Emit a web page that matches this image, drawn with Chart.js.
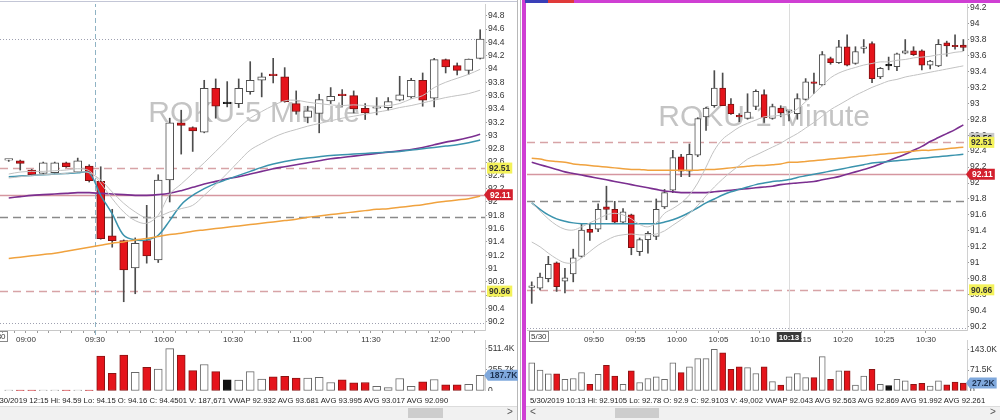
<!DOCTYPE html>
<html>
<head>
<meta charset="utf-8">
<title>ROKU 5 Minute / 1 Minute</title>
<script src="https://cdn.jsdelivr.net/npm/chart.js@4.4.1/dist/chart.umd.min.js"></script>
<style>
  html, body { margin: 0; padding: 0; background: #fff; }
  #page { position: relative; width: 1000px; height: 420px; overflow: hidden; background: #fff;
          font-family: "Liberation Sans", Arial, sans-serif; color: #222; }
  .cv { position: absolute; }
  .status { position: absolute; top: 396px; font-size: 7.7px; white-space: nowrap; color: #222; }
  .track { position: absolute; top: 406px; height: 13px; background: #f1f1f1; border-top: 1px solid #dcdcdc; }
  .thumb { position: absolute; top: 408px; height: 10px; background: #cdcdcd; }
  .arrow { position: absolute; top: 406px; font-size: 10px; color: #555; }
  .datebox { position: absolute; top: 331px; font-size: 8px; color: #333; border: 1px solid #888; padding: 0 1px; line-height: 9px; }
</style>
</head>
<body>
<div id="page">
  <!-- left pane frame -->
  <div style="position:absolute;left:0;top:1px;width:518px;height:1px;background:#c3c6d6"></div>
  <div style="position:absolute;left:517px;top:0;width:1px;height:420px;background:#b8b8b8"></div>
  <div style="position:absolute;left:520px;top:0;width:1px;height:420px;background:#b8b8b8"></div>
  <!-- right pane frame (active) -->
  <div style="position:absolute;left:522px;top:0;width:478px;height:3px;background:#cf3fd3"></div>
  <div style="position:absolute;left:522px;top:0;width:4px;height:420px;background:#cf3fd3"></div>
  <div style="position:absolute;left:525px;top:0;width:23px;height:3px;background:#3a3fb8"></div>
  <div style="position:absolute;left:548px;top:0;width:26px;height:3px;background:#e03a3a"></div>

  <canvas id="leftPrice" class="cv" width="518" height="342" style="left:0;top:4px"></canvas>
  <canvas id="leftVol" class="cv" width="518" height="51" style="left:0;top:340px"></canvas>
  <canvas id="rightPrice" class="cv" width="471" height="342" style="left:527px;top:4px"></canvas>
  <canvas id="rightVol" class="cv" width="471" height="51" style="left:527px;top:340px"></canvas>

  <span class="datebox" style="left:-12px">5/30</span>
  <span class="datebox" style="left:529px">5/30</span>

  <div id="leftStatus" class="status" style="left:-7px"></div>
  <div id="rightStatus" class="status" style="left:530px"></div>

  <div class="track" style="left:0;width:517px"></div>
  <div class="thumb" style="left:408px;width:35px"></div>
  <div class="arrow" style="left:507px">&gt;</div>
  <div class="track" style="left:526px;width:474px"></div>
  <div class="thumb" style="left:615px;width:44px"></div>
  <div class="arrow" style="left:530px">&lt;</div>
  <div class="arrow" style="left:990px">&gt;</div>
</div>

<script>
// ---------------- ROKU 5-minute bars ----------------
const leftTimes = ['08:50','08:55','09:00','09:05','09:10','09:15','09:20','09:25',
  '09:30','09:35','09:40','09:45','09:50','09:55','10:00','10:05','10:10','10:15',
  '10:20','10:25','10:30','10:35','10:40','10:45','10:50','10:55','11:00','11:05',
  '11:10','11:15','11:20','11:25','11:30','11:35','11:40','11:45','11:50','11:55',
  '12:00','12:05','12:10','12:15'];
const leftOpen = [92.63, 92.62, 92.48, 92.43, 92.44, 92.59, 92.45, 92.54,
  92.31, 91.49, 91.42, 91.01, 91.42, 91.13, 92.33, 93.19, 93.12, 93.05, 93.71, 93.48,
  93.48, 93.66, 93.83, 93.92, 93.88, 93.48, 93.27, 93.33, 93.52, 93.62, 93.60, 93.41,
  93.41, 93.42, 93.53, 93.58, 93.83, 93.56, 94.14, 94.05, 93.98, 94.16];
const leftHigh = [92.64, 92.63, 92.49, 92.60, 92.60, 92.60, 92.66, 92.56,
  92.53, 91.89, 91.43, 91.46, 91.95, 92.41, 93.26, 93.38, 93.13, 93.83, 93.85, 93.81,
  93.85, 94.11, 93.94, 94.16, 94.02, 93.67, 93.44, 93.62, 93.72, 93.69, 93.67, 93.48,
  93.57, 93.57, 93.89, 93.86, 93.94, 94.16, 94.15, 94.09, 94.15, 94.59];
const leftLow = [92.61, 92.48, 92.40, 92.42, 92.43, 92.52, 92.44, 92.30,
  91.44, 91.32, 90.50, 90.62, 91.08, 91.09, 92.00, 92.72, 92.76, 93.04, 93.26, 93.43,
  93.42, 93.62, 93.58, 93.79, 93.50, 93.32, 93.19, 93.04, 93.48, 93.44, 93.34, 93.24,
  93.31, 93.38, 93.52, 93.56, 93.44, 93.43, 93.94, 93.91, 93.92, 94.15];
const leftClose = [92.635, 92.58, 92.41, 92.59, 92.59, 92.53, 92.62, 92.32,
  91.45, 91.42, 90.98, 91.38, 91.19, 92.33, 93.19, 93.15, 93.07, 93.71, 93.44, 93.48,
  93.71, 93.83, 93.88, 93.90, 93.51, 93.36, 93.37, 93.54, 93.59, 93.60, 93.40, 93.34,
  93.42, 93.51, 93.61, 93.83, 93.53, 94.14, 94.03, 93.98, 94.15, 94.4501];
const leftVolume = [4000, 4000, 4000, 4000, 4000, 4000, 4000, 4000,
  418000, 211000, 430000, 223000, 284000, 264000, 508000, 430000, 244000, 317000,
  232000, 134000, 130000, 232000, 142000, 171000, 175000, 154000, 154000, 163000,
  102000, 134000, 98000, 102000, 57000, 41000, 150000, 57000, 110000, 138000,
  73000, 73000, 81000, 187671];
const leftVwap = [92.38, 92.39, 92.40, 92.41, 92.42, 92.43, 92.44, 92.44,
  92.10, 91.82, 91.50, 91.43, 91.43, 91.50, 91.72, 91.96, 92.10, 92.20, 92.28, 92.34,
  92.40, 92.46, 92.52, 92.57, 92.61, 92.64, 92.66, 92.68, 92.70, 92.71, 92.72, 92.73,
  92.74, 92.75, 92.76, 92.78, 92.80, 92.82, 92.84, 92.86, 92.89, 92.932];
const leftAvgSlow = [92.36, 92.38, 92.40, 92.41, 92.42, 92.43, 92.45, 92.44,
  92.33, 92.15, 91.98, 91.85, 91.76, 91.78, 91.85, 91.90, 91.95, 92.10, 92.26, 92.43,
  92.61, 92.78, 92.88, 92.97, 93.04, 93.09, 93.14, 93.18, 93.22, 93.26, 93.29, 93.32,
  93.35, 93.38, 93.42, 93.45, 93.49, 93.53, 93.57, 93.60, 93.63, 93.681];
const leftAvgFast = [92.42, 92.45, 92.46, 92.46, 92.47, 92.48, 92.50, 92.47,
  92.28, 92.05, 91.85, 91.72, 91.68, 91.80, 92.12, 92.27, 92.43, 92.59, 92.76, 92.93,
  93.11, 93.26, 93.36, 93.45, 93.52, 93.53, 93.50, 93.48, 93.46, 93.45, 93.46, 93.45,
  93.44, 93.45, 93.48, 93.55, 93.60, 93.72, 93.80, 93.86, 93.92, 93.995];
const leftAvgPurple = [92.06, 92.08, 92.10, 92.11, 92.12, 92.13, 92.14, 92.14,
  92.13, 92.12, 92.11, 92.10, 92.10, 92.11, 92.13, 92.17, 92.22, 92.27, 92.31, 92.35,
  92.38, 92.42, 92.46, 92.50, 92.53, 92.56, 92.59, 92.62, 92.65, 92.67, 92.69, 92.71,
  92.73, 92.75, 92.77, 92.79, 92.82, 92.86, 92.90, 92.93, 92.97, 93.017];
const leftAvgOrange = [91.15, 91.17, 91.19, 91.21, 91.23, 91.26, 91.29, 91.32,
  91.35, 91.38, 91.40, 91.43, 91.45, 91.48, 91.51, 91.53, 91.56, 91.58, 91.60, 91.62,
  91.64, 91.66, 91.68, 91.70, 91.72, 91.74, 91.77, 91.79, 91.81, 91.83, 91.85, 91.87,
  91.89, 91.90, 91.92, 91.94, 91.96, 91.99, 92.01, 92.03, 92.05, 92.090];
const leftPriceTicks = [90.2, 90.4, 90.6, 90.8, 91, 91.2, 91.4, 91.6, 91.8, 92, 92.2, 92.4,
  92.6, 92.8, 93, 93.2, 93.4, 93.6, 93.8, 94, 94.2, 94.4, 94.6, 94.8];
const leftVolumeTicks = [0, 127900, 255700, 383600, 511400];
const leftLevels = [94.4501, 92.51, 92.11, 91.78, 90.66, 90.18];
const leftSessionOpen = '09:30';

// ---------------- ROKU 1-minute bars ----------------
const rightTimes = ['09:42','09:43','09:44','09:45','09:46','09:47','09:48','09:49','09:50','09:51',
  '09:52','09:53','09:54','09:55','09:56','09:57','09:58','09:59','10:00','10:01',
  '10:02','10:03','10:04','10:05','10:06','10:07','10:08','10:09','10:10','10:11',
  '10:12','10:13','10:14','10:15','10:16','10:17','10:18','10:19','10:20','10:21',
  '10:22','10:23','10:24','10:25','10:26','10:27','10:28','10:29','10:30','10:31',
  '10:32','10:33','10:34'];
const rightOpen = [90.69, 90.68, 90.80, 91.00, 90.77, 90.86, 91.08, 91.42, 91.42, 91.70,
  91.67, 91.51, 91.60, 91.14, 91.29, 91.33, 91.70, 91.91, 92.33, 92.15,
  92.35, 92.83, 92.97, 93.19, 92.99, 92.84, 92.81, 92.96, 93.11, 92.81,
  92.94, 92.9, 92.87, 93.05, 93.26, 93.23, 93.56, 93.51, 93.71, 93.50,
  93.69, 93.75, 93.33, 93.47, 93.46, 93.63, 93.66, 93.66, 93.48, 93.47,
  93.76, 93.72, 93.73];
const rightHigh = [90.76, 90.87, 91.08, 91.01, 90.93, 91.17, 91.49, 91.49, 91.74, 91.96,
  91.77, 91.68, 91.61, 91.31, 91.39, 91.80, 91.92, 92.41, 92.36, 92.49,
  92.82, 92.95, 93.41, 93.38, 93.06, 92.87, 93.12, 93.17, 93.17, 92.99,
  92.97, 92.9105, 93.12, 93.31, 93.38, 93.65, 93.58, 93.79, 93.86, 93.71,
  93.80, 93.77, 93.45, 93.58, 93.63, 93.80, 93.71, 93.67, 93.54, 93.80,
  93.78, 93.86, 93.80];
const rightLow = [90.49, 90.66, 90.76, 90.64, 90.62, 90.76, 91.07, 91.28, 91.39, 91.54,
  91.50, 91.50, 91.10, 91.09, 91.12, 91.29, 91.68, 91.88, 92.08, 92.08,
  92.33, 92.66, 92.95, 92.97, 92.86, 92.77, 92.80, 92.92, 92.76, 92.80,
  92.83, 92.78, 92.80, 93.04, 93.12, 93.22, 93.49, 93.50, 93.47, 93.49,
  93.63, 93.26, 93.31, 93.42, 93.41, 93.62, 93.60, 93.42, 93.43, 93.46,
  93.59, 93.68, 93.66];
const rightClose = [90.70, 90.82, 90.98, 90.70, 90.81, 91.06, 91.41, 91.38, 91.67, 91.67,
  91.51, 91.64, 91.19, 91.29, 91.37, 91.67, 91.88, 92.32, 92.15, 92.36,
  92.81, 92.94, 93.19, 92.97, 92.87, 92.83, 92.89, 93.15, 92.82, 92.96,
  92.88, 92.9103, 93.06, 93.27, 93.25, 93.61, 93.51, 93.71, 93.48, 93.65,
  93.70, 93.31, 93.44, 93.47, 93.62, 93.66, 93.61, 93.48, 93.53, 93.74,
  93.72, 93.71, 93.70];
const rightVolume = [97000, 72000, 59000, 59000, 40000, 43000, 63000, 23000, 57000, 88000,
  51000, 23000, 69000, 29000, 43000, 49000, 40000, 97000, 63000, 83000,
  111000, 111000, 143000, 131000, 74000, 83000, 80000, 60000, 83000, 32000,
  20000, 49002, 60000, 46000, 46000, 118000, 40000, 69000, 69000, 20000,
  51000, 74000, 23000, 19000, 40000, 35000, 23000, 26000, 17000, 35000,
  21000, 31000, 27200];
const rightVwap = [91.75, 91.67, 91.60, 91.55, 91.52, 91.50, 91.49, 91.49, 91.49, 91.49,
  91.49, 91.49, 91.49, 91.49, 91.49, 91.49, 91.51, 91.54, 91.58, 91.63,
  91.69, 91.75, 91.80, 91.85, 91.89, 91.92, 91.95, 91.98, 92.00, 92.02,
  92.03, 92.043, 92.07, 92.09, 92.11, 92.13, 92.15, 92.17, 92.19, 92.21,
  92.23, 92.25, 92.26, 92.27, 92.28, 92.29, 92.30, 92.31, 92.32, 92.33,
  92.34, 92.35, 92.36];
const rightAvgSlow = [91.26, 91.20, 91.12, 91.05, 91.00, 91.00, 91.06, 91.14, 91.22, 91.28,
  91.33, 91.35, 91.36, 91.35, 91.35, 91.36, 91.40, 91.47, 91.54, 91.62,
  91.72, 91.84, 91.95, 92.05, 92.14, 92.22, 92.30, 92.35, 92.40, 92.45,
  92.50, 92.563, 92.62, 92.69, 92.76, 92.84, 92.92, 92.98, 93.04, 93.10,
  93.15, 93.20, 93.24, 93.28, 93.30, 93.33, 93.35, 93.37, 93.39, 93.41,
  93.43, 93.45, 93.47];
const rightAvgFast = [91.75, 91.65, 91.55, 91.47, 91.42, 91.41, 91.45, 91.50, 91.55, 91.60,
  91.62, 91.60, 91.55, 91.48, 91.45, 91.50, 91.62, 91.68, 91.75, 91.85,
  92.00, 92.20, 92.41, 92.55, 92.63, 92.70, 92.75, 92.79, 92.83, 92.84,
  92.85, 92.869, 92.93, 93.02, 93.12, 93.22, 93.32, 93.38, 93.42, 93.45,
  93.48, 93.50, 93.52, 93.52, 93.54, 93.55, 93.57, 93.58, 93.59, 93.61,
  93.62, 93.64, 93.65];
const rightAvgPurple = [92.26, 92.23, 92.20, 92.17, 92.14, 92.12, 92.10, 92.08, 92.06, 92.04,
  92.02, 92.00, 91.98, 91.96, 91.94, 91.92, 91.90, 91.89, 91.88, 91.88,
  91.88, 91.88, 91.89, 91.90, 91.91, 91.92, 91.93, 91.94, 91.95, 91.96,
  91.98, 91.992, 92.00, 92.01, 92.02, 92.04, 92.06, 92.08, 92.11, 92.14,
  92.17, 92.20, 92.24, 92.28, 92.32, 92.36, 92.41, 92.46, 92.52, 92.57,
  92.62, 92.67, 92.73];
const rightAvgOrange = [92.31, 92.30, 92.28, 92.27, 92.26, 92.24, 92.23, 92.22, 92.21, 92.20,
  92.19, 92.18, 92.17, 92.17, 92.16, 92.16, 92.16, 92.16, 92.16, 92.16,
  92.16, 92.17, 92.17, 92.18, 92.19, 92.20, 92.21, 92.22, 92.22, 92.23,
  92.24, 92.261, 92.26, 92.27, 92.28, 92.29, 92.30, 92.31, 92.32, 92.33,
  92.34, 92.35, 92.36, 92.37, 92.38, 92.39, 92.40, 92.41, 92.41, 92.42,
  92.43, 92.44, 92.45];
const rightPriceTicks = [90.2, 90.4, 90.6, 90.8, 91, 91.2, 91.4, 91.6, 91.8, 92, 92.2, 92.4,
  92.6, 92.8, 93, 93.2, 93.4, 93.6, 93.8, 94, 94.2];
const rightVolumeTicks = [0, 71500, 143000];
const rightLevels = [92.51, 92.11, 91.78, 90.66, 90.18];
const rightCursorTime = '10:13';
const rightMarkPrice = 92.56;

const tradeDate = '5/30/2019';

// ---------------- drawing ----------------
const FONT = "'Liberation Sans', Arial, sans-serif";
const C = {
  upFill: '#ffffff', upLine: '#4d4d4d', downFill: '#e5141b', downLine: '#7d1212',
  flat: '#111111', wick: '#4d4d4d',
  vwap: '#3a93ad', purple: '#7b2f90', orange: '#f0a23e', gray: '#c2c2c2',
  levelPink: '#d7a3a6', levelSolid: '#d596a0', levelGray: '#8a8a8a', levelDot: '#9ea0b0',
  tick: '#333333'
};

function toMin(s) { const p = s.split(':'); return (+p[0]) * 60 + (+p[1]); }
function hhmm(m) { const h = Math.floor(m / 60), mm = Math.round(m % 60); return String(h).padStart(2, '0') + ':' + String(mm).padStart(2, '0'); }
function dir(o, c) { return c > o ? 1 : (c < o ? -1 : 0); }

function levelStyle(v, last) {
  if (v === last) return { color: C.levelDot, width: 1, dash: [1, 2] };
  if (v === 92.11) return { color: C.levelSolid, width: 1.6, dash: [] };
  if (v === 91.78) return { color: C.levelGray, width: 1.3, dash: [8, 5] };
  if (v === 90.18) return { color: C.levelDot, width: 1, dash: [1, 2] };
  return { color: C.levelPink, width: 1.3, dash: [8, 5] };
}

function badge(ctx, x, y, text, bg, fg, arrow) {
  ctx.save();
  ctx.font = 'bold 8.5px ' + FONT;
  const w = ctx.measureText(text).width + 4, h = 11;
  ctx.fillStyle = bg;
  ctx.beginPath();
  if (arrow) {
    ctx.moveTo(x - 4, y);
    ctx.lineTo(x, y - h / 2);
    ctx.lineTo(x + w, y - h / 2);
    ctx.lineTo(x + w, y + h / 2);
    ctx.lineTo(x, y + h / 2);
    ctx.closePath();
  } else {
    ctx.rect(x, y - h / 2, w, h);
  }
  ctx.fill();
  ctx.fillStyle = fg;
  ctx.textBaseline = 'middle';
  ctx.textAlign = 'left';
  ctx.fillText(text, x + 2, y + 0.5);
  ctx.restore();
}

const paneDecor = {
  id: 'paneDecor',
  beforeDatasetsDraw(chart, args, o) {
    const { ctx, chartArea: a, scales: { x, y } } = chart;
    ctx.save();
    if (o.watermark) {
      ctx.font = '30px ' + FONT;
      ctx.fillStyle = '#c4c4c4';
      ctx.textAlign = 'center';
      ctx.textBaseline = 'alphabetic';
      ctx.fillText(o.watermark, a.left + a.width * o.wmX, a.top + a.height * o.wmY);
    }
    ctx.beginPath(); ctx.rect(a.left, a.top, a.width, a.height); ctx.clip();
    (o.levels || []).forEach(v => {
      const s = levelStyle(v, o.lastPrice);
      const py = Math.round(y.getPixelForValue(v)) + 0.5;
      ctx.strokeStyle = s.color; ctx.lineWidth = s.width; ctx.setLineDash(s.dash);
      ctx.beginPath(); ctx.moveTo(a.left, py); ctx.lineTo(a.right, py); ctx.stroke();
    });
    ctx.restore();
    if (o.sessionLine != null) {
      const px = Math.round(x.getPixelForValue(o.sessionLine)) + 0.5;
      ctx.save();
      ctx.strokeStyle = '#8fb3c4'; ctx.lineWidth = 1; ctx.setLineDash([5, 3]);
      ctx.beginPath(); ctx.moveTo(px, a.top - 2); ctx.lineTo(px, a.bottom + 6); ctx.stroke();
      ctx.restore();
    }
    if (o.cursor != null) {
      const px = Math.round(x.getPixelForValue(o.cursor)) + 0.5;
      ctx.save();
      ctx.strokeStyle = '#dcdcdc'; ctx.lineWidth = 1;
      ctx.beginPath(); ctx.moveTo(px, a.top); ctx.lineTo(px, a.bottom); ctx.stroke();
      ctx.restore();
    }
  },
  afterDraw(chart, args, o) {
    const { ctx, chartArea: a, scales: { x, y } } = chart;
    (o.badges || []).forEach(b => {
      badge(ctx, a.right + (b.arrow ? 3 : 2), y.getPixelForValue(b.value), b.text, b.bg, b.fg, b.arrow);
    });
    if (o.cursor != null) {
      const px = x.getPixelForValue(o.cursor);
      ctx.save();
      ctx.font = 'bold 8px ' + FONT;
      const t = o.cursorLabel, w = ctx.measureText(t).width + 4;
      ctx.fillStyle = '#3a3a3a';
      ctx.fillRect(px - w / 2, a.bottom + 2, w, 10);
      ctx.fillStyle = '#fff'; ctx.textAlign = 'center'; ctx.textBaseline = 'middle';
      ctx.fillText(t, px, a.bottom + 7.5);
      ctx.restore();
    }
  }
};

// keep the plot area edge-to-edge: no extra room reserved for overhanging labels
function fixVertical(width) {
  return s => { s.width = width; s.paddingTop = 0; s.paddingBottom = 0; };
}
function fixHorizontal(height) {
  return s => { s.height = height; s.paddingLeft = 0; s.paddingRight = 0; };
}

function candleDatasets(t, open, high, low, close, bodyW) {
  const wicks = t.map((m, i) => ({ x: m, y: [low[i], high[i]] }));
  const bodies = t.map((m, i) => ({ x: m, y: [open[i], close[i]] }));
  return [
    { type: 'bar', data: wicks, barThickness: 1, grouped: false, order: 20,
      backgroundColor: C.wick, borderWidth: 0 },
    { type: 'bar', data: bodies, barThickness: bodyW, grouped: false, order: 19, minBarLength: 1.5,
      borderSkipped: false, borderWidth: 1,
      backgroundColor: c => { const d = dir(open[c.dataIndex], close[c.dataIndex]); return d > 0 ? C.upFill : d < 0 ? C.downFill : C.flat; },
      borderColor: c => { const d = dir(open[c.dataIndex], close[c.dataIndex]); return d > 0 ? C.upLine : d < 0 ? C.downLine : C.flat; } }
  ];
}

function maLine(t, vals, color, width) {
  return { type: 'line', data: t.map((m, i) => ({ x: m, y: vals[i] })), borderColor: color,
    borderWidth: width, pointRadius: 0, tension: 0.35, order: 5, fill: false };
}

function priceChart(id, p) {
  return new Chart(document.getElementById(id), {
    type: 'bar',
    data: { datasets: [
      ...candleDatasets(p.t, p.open, p.high, p.low, p.close, p.bodyW),
      maLine(p.t, p.avgSlow, C.gray, 1),
      maLine(p.t, p.avgFast, C.gray, 1),
      maLine(p.t, p.avgOrange, C.orange, 1.5),
      maLine(p.t, p.vwap, C.vwap, 1.5),
      maLine(p.t, p.avgPurple, C.purple, 1.6)
    ]},
    options: {
      responsive: false, animation: false, events: [], devicePixelRatio: 1,
      layout: { padding: 0 },
      plugins: { legend: { display: false }, tooltip: { enabled: false }, paneDecor: p.decor },
      scales: {
        x: {
          type: 'linear', min: p.xMin, max: p.xMax, offset: false,
          grid: { drawOnChartArea: false, offset: false, tickLength: 3, color: '#9a9a9a' },
          border: { color: '#c8c8c8' },
          ticks: { autoSkip: false, maxRotation: 0, padding: 2, color: C.tick, font: { family: FONT, size: 8 },
                   callback: v => p.xLabel(v) },
          afterBuildTicks: s => { s.ticks = p.xTicks.map(v => ({ value: v })); },
          afterFit: fixHorizontal(16)
        },
        y: {
          type: 'linear', position: 'right', min: p.yMin, max: p.yMax,
          grid: { drawOnChartArea: false, tickLength: 2, color: '#9a9a9a' },
          border: { color: '#d0d0d0' },
          ticks: { padding: 1, color: C.tick, font: { family: FONT, size: 8.5 },
                   callback: v => String(+v.toFixed(1)) },
          afterBuildTicks: s => { s.ticks = p.yTicks.map(v => ({ value: v })); },
          afterFit: fixVertical(p.axisW)
        }
      }
    },
    plugins: [paneDecor]
  });
}

function volumeChart(id, p) {
  const colorOf = (i, up, down, flat) => { const d = dir(p.open[i], p.close[i]); return d > 0 ? up : d < 0 ? down : flat; };
  return new Chart(document.getElementById(id), {
    type: 'bar',
    data: { datasets: [{
      data: p.t.map((m, i) => ({ x: m, y: p.volume[i] })),
      barThickness: p.barW, grouped: false, borderWidth: 1, borderSkipped: false, minBarLength: 1,
      backgroundColor: c => colorOf(c.dataIndex, '#ffffff', '#e5141b', '#111111'),
      borderColor: c => colorOf(c.dataIndex, '#6a6a6a', '#8a1515', '#111111')
    }]},
    options: {
      responsive: false, animation: false, events: [], devicePixelRatio: 1,
      layout: { padding: 0 },
      plugins: { legend: { display: false }, tooltip: { enabled: false }, paneDecor: { badges: p.badges } },
      scales: {
        x: { type: 'linear', display: false, min: p.xMin, max: p.xMax, offset: false },
        y: {
          type: 'linear', position: 'right', min: 0, max: p.yMax,
          grid: { drawOnChartArea: false, tickLength: 2, color: '#9a9a9a' },
          border: { color: '#d0d0d0' },
          ticks: { padding: 1, color: C.tick, font: { family: FONT, size: 8.5 },
                   callback: v => v === 0 ? '0' : (v / 1000).toFixed(1) + 'K' },
          afterBuildTicks: s => { s.ticks = p.yTicks.map(v => ({ value: v })); },
          afterFit: fixVertical(p.axisW)
        }
      }
    },
    plugins: [paneDecor]
  });
}

function statusText(times, i, open, high, low, close, vol, vwap, slow, fast, purple, orange) {
  return tradeDate + ' ' + times[i] + '  Hi: ' + high[i] + '  Lo: ' + low[i] + '  O: ' + open[i] +
    '  C: ' + close[i] + '  V: ' + vol[i].toLocaleString('en-US') +
    '  VWAP ' + vwap[i].toFixed(3) + ' AVG ' + slow[i].toFixed(3) + ' AVG ' + fast[i].toFixed(3) +
    ' AVG ' + purple[i].toFixed(3) + ' AVG ' + orange[i].toFixed(3);
}

// ---- left pane: 5-minute ----
const lt = leftTimes.map(s => toMin(s) + 2.5);
const lX = { min: 528.7, max: 739.6 };
const lLast = leftClose.length - 1;
const lXTicks = [];
for (let m = toMin(leftTimes[0]) - 20; m <= toMin(leftTimes[lLast]); m += 5) if (m >= lX.min) lXTicks.push(m);

priceChart('leftPrice', {
  t: lt, open: leftOpen, high: leftHigh, low: leftLow, close: leftClose, bodyW: 8,
  vwap: leftVwap, avgSlow: leftAvgSlow, avgFast: leftAvgFast, avgPurple: leftAvgPurple, avgOrange: leftAvgOrange,
  xMin: lX.min, xMax: lX.max, yMin: 90.075, yMax: 94.977, axisW: 33,
  xTicks: lXTicks, xLabel: v => (v % 30 === 0 ? hhmm(v) : ''),
  yTicks: leftPriceTicks,
  decor: {
    watermark: 'ROKU-5 Minute', wmX: 0.524, wmY: 0.362,
    levels: leftLevels, lastPrice: leftClose[lLast], sessionLine: toMin(leftSessionOpen),
    badges: [
      { value: 92.51, text: '92.51', bg: '#f4f25a', fg: '#333', arrow: false },
      { value: 92.11, text: '92.11', bg: '#d3202e', fg: '#fff', arrow: true },
      { value: 90.66, text: '90.66', bg: '#f4f25a', fg: '#333', arrow: false }
    ]
  }
});
volumeChart('leftVol', {
  t: lt, open: leftOpen, close: leftClose, volume: leftVolume, barW: 8,
  xMin: lX.min, xMax: lX.max, yMax: 611000, axisW: 33, yTicks: leftVolumeTicks,
  badges: [{ value: leftVolume[lLast], text: (leftVolume[lLast] / 1000).toFixed(1) + 'K', bg: '#7fa8dc', fg: '#1d3150', arrow: true }]
});
document.getElementById('leftStatus').textContent =
  statusText(leftTimes, lLast, leftOpen, leftHigh, leftLow, leftClose, leftVolume,
             leftVwap, leftAvgSlow, leftAvgFast, leftAvgPurple, leftAvgOrange);

// ---- right pane: 1-minute ----
const rt = rightTimes.map(s => toMin(s) + 0.5);
const rX = { min: 581.93, max: 634.94 };
const rLast = rightClose.length - 1;
const rCur = rightTimes.indexOf(rightCursorTime);
const rXTicks = [];
for (let m = 590; m <= toMin(rightTimes[rLast]); m += 5) rXTicks.push(m);

priceChart('rightPrice', {
  t: rt, open: rightOpen, high: rightHigh, low: rightLow, close: rightClose, bodyW: 6,
  vwap: rightVwap, avgSlow: rightAvgSlow, avgFast: rightAvgFast, avgPurple: rightAvgPurple, avgOrange: rightAvgOrange,
  xMin: rX.min, xMax: rX.max, yMin: 90.156, yMax: 94.246, axisW: 31,
  xTicks: rXTicks, xLabel: v => hhmm(v),
  yTicks: rightPriceTicks,
  decor: {
    watermark: 'ROKU-1 Minute', wmX: 0.539, wmY: 0.374,
    levels: rightLevels, lastPrice: null, cursor: rt[rCur], cursorLabel: rightCursorTime,
    badges: [
      { value: rightMarkPrice, text: rightMarkPrice.toFixed(2), bg: '#c9c9c9', fg: '#222', arrow: false },
      { value: 92.51, text: '92.51', bg: '#f4f25a', fg: '#333', arrow: false },
      { value: 92.11, text: '92.11', bg: '#d3202e', fg: '#fff', arrow: true },
      { value: 90.66, text: '90.66', bg: '#f4f25a', fg: '#333', arrow: false }
    ]
  }
});
volumeChart('rightVol', {
  t: rt, open: rightOpen, close: rightClose, volume: rightVolume, barW: 6,
  xMin: rX.min, xMax: rX.max, yMax: 174900, axisW: 31, yTicks: rightVolumeTicks,
  badges: [{ value: rightVolume[rLast], text: (rightVolume[rLast] / 1000).toFixed(1) + 'K', bg: '#7fa8dc', fg: '#1d3150', arrow: true }]
});
document.getElementById('rightStatus').textContent =
  statusText(rightTimes, rCur, rightOpen, rightHigh, rightLow, rightClose, rightVolume,
             rightVwap, rightAvgSlow, rightAvgFast, rightAvgPurple, rightAvgOrange);
</script>
</body>
</html>
